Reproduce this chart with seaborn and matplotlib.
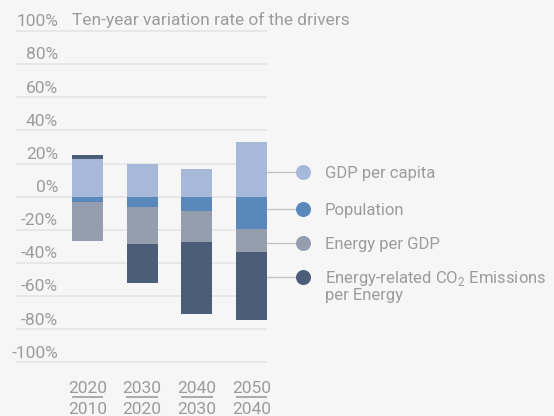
import numpy as np
import pandas as pd
import matplotlib
matplotlib.use("Agg")
import matplotlib.pyplot as plt
import matplotlib.transforms as mtransforms
import seaborn as sns

# ---------------- data ----------------
periods_top = ["2020", "2030", "2040", "2050"]
periods_bottom = ["2010", "2020", "2030", "2040"]
categories = [f"{a}/{b}" for a, b in zip(periods_top, periods_bottom)]

series_names = [
    "GDP per capita",
    "Population",
    "Energy per GDP",
    "Energy-related CO$_\\mathregular{2}$ Emissions\nper Energy",
]
gdp_per_capita = [22.7, 19.7, 16.7, 32.9]
population = [-3.0, -6.2, -8.6, -19.4]
energy_per_gdp = [-24.0, -22.3, -18.6, -13.8]
co2_per_energy = [2.4, -23.5, -43.7, -41.5]

y_ticks = [-100, -80, -60, -40, -20, 0, 20, 40, 60, 80, 100]
title = "Ten-year variation rate of the drivers"

series_colors = ["#a6b9d9", "#5a88ba", "#959eaf", "#4b5d78"]
legend_y = [15.0, -7.4, -27.9, -48.3]   # label anchor positions (data units)

# ---------------- style ----------------
BG = "#f6f6f6"
TXT = "#9c9c9c"
GRID = "#e5e5e5"
sns.set_style("white")
plt.rcParams["font.family"] = ["Roboto", "DejaVu Sans"]
FS = 12.5
FS_LEG = 12.0

fig = plt.figure(figsize=(5.54, 4.16), dpi=100, facecolor=BG)
PX = 1 / 100.0
ax = fig.add_axes([16 / 554, 1 - 364 / 416, 251 / 554, (364 - 29.3) / 416])
ax.set_facecolor(BG)

values = [gdp_per_capita, population, energy_per_gdp, co2_per_energy]
pos_base = np.zeros(len(categories))
neg_base = np.zeros(len(categories))
for name, vals, col in zip(series_names, values, series_colors):
    vals = np.asarray(vals, dtype=float)
    bottoms = np.where(vals >= 0, pos_base, neg_base)
    df = pd.DataFrame({"period": categories, "value": vals})
    sns.barplot(data=df, x="period", y="value", bottom=bottoms, color=col,
                saturation=1, errorbar=None, width=0.567, linewidth=0,
                order=categories, ax=ax, zorder=3)
    pos_base = pos_base + np.where(vals >= 0, vals, 0)
    neg_base = neg_base + np.where(vals < 0, vals, 0)

ax.set_xlim(-1.308, 3.283)
ax.set_ylim(-101, 101)
ax.set_yticks(y_ticks)
ax.set_yticklabels([])
ax.set_xticks([])
ax.set_xlabel("")
ax.set_ylabel("")
ax.tick_params(length=0)
for s in ax.spines.values():
    s.set_visible(False)
ax.yaxis.grid(True, color=GRID, linewidth=1.2, zorder=0)
ax.set_axisbelow(True)

def off(dx, dy):
    return mtransforms.ScaledTranslation(dx * PX, dy * PX, fig.dpi_scale_trans)

yl_tr = mtransforms.blended_transform_factory(ax.transAxes, ax.transData)
# y tick labels (right aligned, sitting above their gridline)
for v in y_ticks:
    ax.text((58 - 16) / 251, v, f"{v}%", transform=yl_tr + off(0, 4.6),
            ha="right", va="baseline", fontsize=FS, color=TXT, clip_on=False)

# title
ax.text((72 - 16) / 251, y_ticks[-1], title, transform=yl_tr + off(0, 5.5),
        ha="left", va="baseline", fontsize=FS, color=TXT, clip_on=False)

# x labels as fractions
xl_tr = mtransforms.blended_transform_factory(ax.transData, fig.dpi_scale_trans)
for i, (a, b) in enumerate(zip(periods_top, periods_bottom)):
    ax.text(i, (416 - 393.3) * PX, a, transform=xl_tr, ha="center",
            va="baseline", fontsize=FS, color=TXT, clip_on=False)
    ax.text(i, (416 - 413.7) * PX, b, transform=xl_tr, ha="center",
            va="baseline", fontsize=FS, color=TXT, clip_on=False)
    ax.plot([i - 0.29, i + 0.29], [(416 - 396.7) * PX] * 2, transform=xl_tr,
            color="#aaaaaa", linewidth=1.4, clip_on=False, solid_capstyle="butt")

# legend with leader lines
mx = (303 - 16) / 251
tx = (325 - 16) / 251
for name, col, ly in zip(series_names, series_colors, legend_y):
    ax.plot([1.0, mx], [ly, ly], transform=yl_tr, color="#c4c4c4",
            linewidth=1.0, clip_on=False, zorder=4)
    ax.plot([mx], [ly], transform=yl_tr, marker="o", markersize=10.8,
            color=col, markeredgewidth=0, clip_on=False, zorder=5)
    for k, line in enumerate(name.split("\n")):
        ax.text(tx, ly, line, transform=yl_tr + off(0, -6.3 - 16.7 * k),
                ha="left", va="baseline", fontsize=FS_LEG, color=TXT,
                clip_on=False)

fig.savefig("out.png", dpi=100, facecolor=BG)
